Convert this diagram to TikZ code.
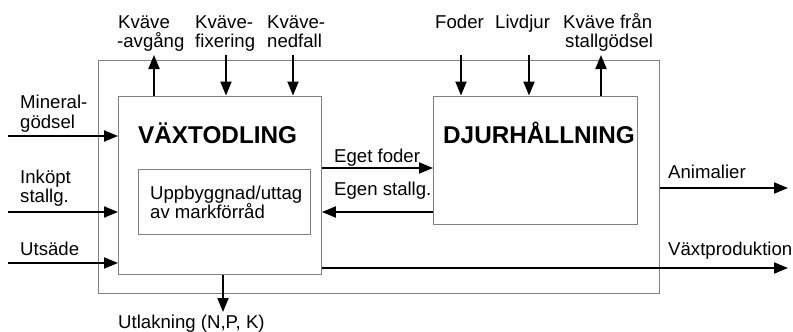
\documentclass[tikz,border=0pt]{standalone}
\usepackage{fontspec}
\setmainfont{Liberation Sans}
\usetikzlibrary{arrows.meta}
\begin{document}
\begin{tikzpicture}[x=1pt,y=-1pt,
  lbl/.style={font=\fontsize{18.6}{20}\selectfont, inner sep=0pt, anchor=base west},
  big/.style={font=\bfseries\fontsize{24.3}{26}\selectfont, inner sep=0pt, anchor=base west},
  boxx/.style={draw=black!50, line width=0.9pt, fill=white, inner sep=0pt, anchor=north west},
  arr/.style={line width=2pt, -{Triangle[length=14pt,width=11pt]}}]
\useasboundingbox (0,0) rectangle (793,332);
% boxes
\node[boxx, minimum width=561pt, minimum height=233pt] (outer) at (98,60) {};
\node[boxx, minimum width=203pt, minimum height=178.5pt] (vx) at (118,95.5) {};
\node[boxx, minimum width=172pt, minimum height=65pt] (inner) at (138,169) {};
\node[boxx, minimum width=204pt, minimum height=128pt] (dj) at (433,95.5) {};
% box texts
\node[big] (vxt) at (138,143) {VÄXTODLING};
\node[big] (djt) at (443,143) {DJURHÅLLNING};
\node[lbl] (in1) at (150,199) {Uppbyggnad/uttag};
\node[lbl] (in2) at (150,218) {av markförråd};
% coordinates of free ends
\coordinate (avgT) at (154,55);
\coordinate (fixT) at (226,55);
\coordinate (nedT) at (293,55);
\coordinate (fodT) at (461,55);
\coordinate (livT) at (529,55);
\coordinate (stgT) at (601,55);
\coordinate (minL) at (8,136);
\coordinate (inkL) at (8,212);
\coordinate (utsL) at (8,263);
\coordinate (utlB) at (223,312);
\coordinate (egfY) at (0,168);
\coordinate (egsY) at (0,212);
\coordinate (aniR) at (788,188);
\coordinate (vxpR) at (788,268);
% top arrows
\draw[arr] (avgT |- vx.north) -- (avgT);
\draw[arr] (fixT) -- (fixT |- vx.north);
\draw[arr] (nedT) -- (nedT |- vx.north);
\draw[arr] (fodT) -- (fodT |- dj.north);
\draw[arr] (livT) -- (livT |- dj.north);
\draw[arr] (stgT |- dj.north) -- (stgT);
% left arrows
\draw[arr] (minL) -- (minL -| vx.west);
\draw[arr] (inkL) -- (inkL -| vx.west);
\draw[arr] (utsL) -- (utsL -| vx.west);
% bottom
\draw[arr] (utlB |- vx.south) -- (utlB);
% between
\draw[arr] (egfY -| vx.east) -- (egfY -| dj.west);
\draw[arr] (egsY -| dj.west) -- (egsY -| vx.east);
% right outputs
\draw[arr] (aniR -| outer.east) -- (aniR);
\draw[arr] (vxpR -| vx.east) -- (vxpR);
% labels
\node[lbl] (l1a) at (118,28) {Kväve};
\node[lbl] (l1b) at (117,47) {-avgång};
\node[lbl] (l2a) at (195,28) {Kväve-};
\node[lbl] (l2b) at (195,47) {fixering};
\node[lbl] (l3a) at (267,28) {Kväve-};
\node[lbl] (l3b) at (267,47) {nedfall};
\node[lbl] (l4) at (435,28) {Foder};
\node[lbl] (l5) at (495,28) {Livdjur};
\node[lbl] (l6a) at (563,28) {Kväve från};
\node[lbl] (l6b) at (565,47) {stallgödsel};
\node[lbl] (m1) at (20,108) {Mineral-};
\node[lbl] (m2) at (20,128) {gödsel};
\node[lbl] (i1) at (20,183) {Inköpt};
\node[lbl] (i2) at (20,202) {stallg.};
\node[lbl] (u1) at (20,255) {Utsäde};
\node[lbl] (ut) at (118,328) {Utlakning (N,P, K)};
\node[lbl] (ef) at (334,162) {Eget foder};
\node[lbl] (es) at (334,195) {Egen stallg.};
\node[lbl] (an) at (668,178) {Animalier};
\node[lbl] (vp) at (668,255) {Växtproduktion};
\end{tikzpicture}
\end{document}
